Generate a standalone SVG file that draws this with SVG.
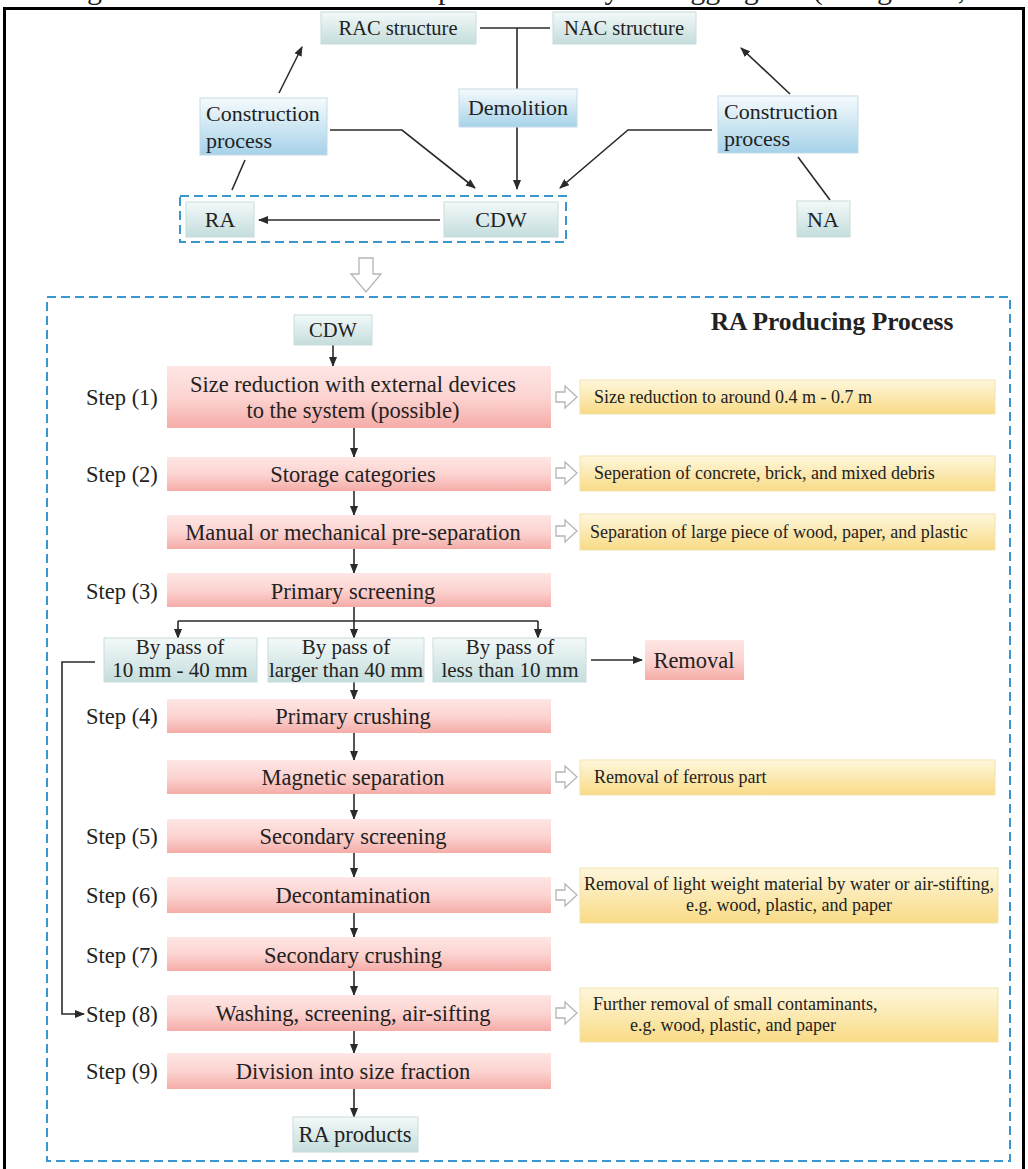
<svg xmlns="http://www.w3.org/2000/svg" width="1028" height="1169" viewBox="0 0 1028 1169">
<style>
  text { font-family: "Liberation Serif", "Times New Roman", serif; fill: #222; }
  .t20 { font-size: 20.5px; }
  .t22 { font-size: 22px; }
  .tbp { font-size: 21px; }
  .t21 { font-size: 22.5px; }
  .t17 { font-size: 18px; }
  .c { text-anchor: middle; }
  .teal { fill: url(#gTeal); stroke: #c9dcdc; stroke-width: 1; }
  .blue { fill: url(#gBlue); stroke: #c3dbe8; stroke-width: 1; }
  .pink { fill: url(#gPink); stroke: none; }
  .yel { fill: url(#gYel); stroke: #f3e3b0; stroke-width: 1; }
  .ln { stroke: #2a2a2a; stroke-width: 1.6; fill: none; }
  .arr { marker-end: url(#ah); }
  .dash { fill: none; stroke: #3a96cf; stroke-width: 2; stroke-dasharray: 9 5; }
  .hollow { fill: #fff; stroke: #b5b5b5; stroke-width: 1.3; }
</style>
<defs>
  <linearGradient id="gTeal" x1="0" y1="0" x2="0" y2="1">
    <stop offset="0" stop-color="#f3f9f9"/>
    <stop offset="1" stop-color="#c4dddc"/>
  </linearGradient>
  <linearGradient id="gBlue" x1="0" y1="0" x2="0" y2="1">
    <stop offset="0" stop-color="#f6fbfd"/>
    <stop offset="1" stop-color="#a6d2e9"/>
  </linearGradient>
  <linearGradient id="gPink" x1="0" y1="0" x2="0" y2="1">
    <stop offset="0" stop-color="#fde6e4"/>
    <stop offset="0.5" stop-color="#fcd4d1"/>
    <stop offset="1" stop-color="#f5aca8"/>
  </linearGradient>
  <linearGradient id="gYel" x1="0" y1="0" x2="0" y2="1">
    <stop offset="0" stop-color="#fef7dc"/>
    <stop offset="1" stop-color="#f9db86"/>
  </linearGradient>
  <marker id="ah" markerWidth="10" markerHeight="8" refX="9" refY="4" orient="auto" markerUnits="userSpaceOnUse">
    <path d="M0,0 L10,4 L0,8 z" fill="#2a2a2a"/>
  </marker>
</defs>

<rect x="0" y="0" width="1028" height="1169" fill="#fff"/>

<!-- clipped caption -->
<text x="62" y="-1" style="font-size:30px" fill="#000">Figure 3. The flow chart of the process of recycled aggregates (Wang et al., 2020)</text>

<!-- outer frame -->
<rect x="4.5" y="8.5" width="1019" height="1170" fill="none" stroke="#000" stroke-width="3"/>

<!-- dashed containers -->
<rect class="dash" x="180" y="196" width="386" height="46"/>
<rect class="dash" x="47" y="297" width="963" height="864"/>

<g id="connectors">
  <!-- top -->
  <line class="ln" x1="480" y1="28" x2="550" y2="28"/>
  <line class="ln" x1="517" y1="28" x2="517" y2="89"/>
  <line class="ln arr" x1="517" y1="127" x2="517" y2="189"/>
  <line class="ln arr" x1="279" y1="93" x2="302" y2="47"/>
  <line class="ln" x1="245" y1="160" x2="232" y2="190"/>
  <polyline class="ln arr" points="330,130 402,130 475,188"/>
  <polyline class="ln arr" points="712,130 628,130 560,188"/>
  <line class="ln arr" x1="790" y1="94" x2="741" y2="48"/>
  <line class="ln" x1="798" y1="157" x2="830" y2="200"/>
  <line class="ln arr" x1="440" y1="220" x2="259" y2="220"/>
  <!-- process -->
  <line class="ln arr" x1="333" y1="345" x2="333" y2="366"/>
  <line class="ln arr" x1="354" y1="428" x2="354" y2="457"/>
  <line class="ln arr" x1="354" y1="491" x2="354" y2="515"/>
  <line class="ln arr" x1="354" y1="549" x2="354" y2="573"/>
  <line class="ln" x1="354" y1="607" x2="354" y2="621"/>
  <line class="ln" x1="178" y1="621" x2="538" y2="621"/>
  <line class="ln arr" x1="178" y1="621" x2="178" y2="638"/>
  <line class="ln arr" x1="354" y1="621" x2="354" y2="638"/>
  <line class="ln arr" x1="538" y1="621" x2="538" y2="638"/>
  <line class="ln arr" x1="591" y1="660" x2="642" y2="660"/>
  <line class="ln arr" x1="354" y1="682" x2="354" y2="699"/>
  <line class="ln arr" x1="354" y1="733" x2="354" y2="760"/>
  <line class="ln arr" x1="354" y1="794" x2="354" y2="819"/>
  <line class="ln arr" x1="354" y1="853" x2="354" y2="877"/>
  <line class="ln arr" x1="354" y1="913" x2="354" y2="937"/>
  <line class="ln arr" x1="354" y1="971" x2="354" y2="995"/>
  <line class="ln arr" x1="354" y1="1031" x2="354" y2="1053"/>
  <line class="ln arr" x1="354" y1="1089" x2="354" y2="1117"/>
  <polyline class="ln arr" points="95,662 62,662 62,1014 84,1014"/>
  <!-- hollow arrows -->
  <path class="hollow" d="M359,258 h14 v16 h8 l-15,18 l-15,-18 h8 z"/>
  <path class="hollow" d="M556,392 h9 v-6 l12,11 l-12,11 v-6 h-9 z"/>
  <path class="hollow" d="M556,468 h9 v-6 l12,11 l-12,11 v-6 h-9 z"/>
  <path class="hollow" d="M556,526 h9 v-6 l12,11 l-12,11 v-6 h-9 z"/>
  <path class="hollow" d="M556,772 h9 v-6 l12,11 l-12,11 v-6 h-9 z"/>
  <path class="hollow" d="M556,890 h9 v-6 l12,11 l-12,11 v-6 h-9 z"/>
  <path class="hollow" d="M556,1008 h9 v-6 l12,11 l-12,11 v-6 h-9 z"/>
</g>

<!-- top section nodes -->
<g id="n-rac"><rect class="teal" x="321" y="12" width="155" height="32"/><text class="t20 c" x="398" y="35">RAC structure</text></g>
<g id="n-nac"><rect class="teal" x="553" y="12" width="143" height="32"/><text class="t20 c" x="624" y="35">NAC structure</text></g>
<g id="n-demolition"><rect class="blue" x="459" y="89" width="118" height="38"/><text class="t22 c" x="518" y="115">Demolition</text></g>
<g id="n-cp-left"><rect class="blue" x="200" y="98" width="127" height="57"/><text class="t22" x="206" y="121">Construction</text><text class="t22" x="206" y="148">process</text></g>
<g id="n-cp-right"><rect class="blue" x="718" y="96" width="140" height="57"/><text class="t22" x="724" y="119">Construction</text><text class="t22" x="724" y="146">process</text></g>
<g id="n-ra"><rect class="teal" x="186" y="202" width="68" height="35"/><text class="t22 c" x="220" y="227">RA</text></g>
<g id="n-cdw-top"><rect class="teal" x="444" y="202" width="114" height="35"/><text class="t22 c" x="501" y="227">CDW</text></g>
<g id="n-na"><rect class="teal" x="797" y="201" width="53" height="36"/><text class="t22 c" x="823" y="227">NA</text></g>

<!-- process title -->
<text x="832" y="330" style="font-size:25.5px;font-weight:bold" class="c">RA Producing Process</text>

<!-- process nodes -->
<g id="n-cdw"><rect class="teal" x="294" y="315" width="78" height="30"/><text class="t20 c" x="333" y="337">CDW</text></g>

<g id="n-step1"><text class="t21" x="86" y="405">Step (1)</text><rect class="pink" x="167" y="366" width="384" height="62"/><text class="t21 c" x="353" y="392">Size reduction with external devices</text><text class="t21 c" x="353" y="418">to the system (possible)</text></g>
<g id="n-note1"><rect class="yel" x="580" y="380" width="415" height="34"/><text class="t17" x="594" y="403">Size reduction to around 0.4 m - 0.7 m</text></g>

<g id="n-step2"><text class="t21" x="86" y="482">Step (2)</text><rect class="pink" x="167" y="457" width="384" height="34"/><text class="t21 c" x="353" y="482">Storage categories</text></g>
<g id="n-note2"><rect class="yel" x="580" y="456" width="415" height="35"/><text class="t17" x="594" y="479">Seperation of concrete, brick, and mixed debris</text></g>

<g id="n-presep"><rect class="pink" x="167" y="515" width="384" height="34"/><text class="t21 c" x="353" y="540">Manual or mechanical pre-separation</text></g>
<g id="n-note3"><rect class="yel" x="580" y="514" width="415" height="36"/><text class="t17" x="590" y="538">Separation of large piece of wood, paper, and plastic</text></g>

<g id="n-step3"><text class="t21" x="86" y="599">Step (3)</text><rect class="pink" x="167" y="573" width="384" height="34"/><text class="t21 c" x="353" y="599">Primary screening</text></g>

<g id="n-bp1"><rect class="teal" x="104" y="638" width="153" height="44"/><text class="tbp c" x="180" y="654">By pass of</text><text class="tbp c" x="180" y="677">10 mm - 40 mm</text></g>
<g id="n-bp2"><rect class="teal" x="268" y="638" width="156" height="44"/><text class="tbp c" x="346" y="654">By pass of</text><text class="tbp c" x="346" y="677">larger than 40 mm</text></g>
<g id="n-bp3"><rect class="teal" x="433" y="638" width="153" height="44"/><text class="tbp c" x="510" y="654">By pass of</text><text class="tbp c" x="510" y="677">less than 10 mm</text></g>
<g id="n-removal"><rect class="pink" x="645" y="640" width="99" height="40"/><text class="t21 c" x="694" y="668">Removal</text></g>

<g id="n-step4"><text class="t21" x="86" y="724">Step (4)</text><rect class="pink" x="167" y="699" width="384" height="34"/><text class="t21 c" x="353" y="724">Primary crushing</text></g>

<g id="n-magnetic"><rect class="pink" x="167" y="760" width="384" height="34"/><text class="t21 c" x="353" y="785">Magnetic separation</text></g>
<g id="n-note4"><rect class="yel" x="580" y="760" width="415" height="35"/><text class="t17" x="594" y="783">Removal of ferrous part</text></g>

<g id="n-step5"><text class="t21" x="86" y="844">Step (5)</text><rect class="pink" x="167" y="819" width="384" height="34"/><text class="t21 c" x="353" y="844">Secondary screening</text></g>

<g id="n-step6"><text class="t21" x="86" y="903">Step (6)</text><rect class="pink" x="167" y="877" width="384" height="36"/><text class="t21 c" x="353" y="903">Decontamination</text></g>
<g id="n-note5"><rect class="yel" x="580" y="868" width="418" height="55"/><text class="t17 c" x="789" y="890">Removal of light weight material by water or air-stifting,</text><text class="t17 c" x="789" y="911">e.g. wood, plastic, and paper</text></g>

<g id="n-step7"><text class="t21" x="86" y="963">Step (7)</text><rect class="pink" x="167" y="937" width="384" height="34"/><text class="t21 c" x="353" y="963">Secondary crushing</text></g>

<g id="n-step8"><text class="t21" x="86" y="1022">Step (8)</text><rect class="pink" x="167" y="995" width="384" height="36"/><text class="t21 c" x="353" y="1021">Washing, screening, air-sifting</text></g>
<g id="n-note6"><rect class="yel" x="580" y="988" width="418" height="54"/><text class="t17" x="593" y="1010">Further removal of small contaminants,</text><text class="t17" x="630" y="1031">e.g. wood, plastic, and paper</text></g>

<g id="n-step9"><text class="t21" x="86" y="1079">Step (9)</text><rect class="pink" x="167" y="1053" width="384" height="36"/><text class="t21 c" x="353" y="1079">Division into size fraction</text></g>

<g id="n-raproducts"><rect class="teal" x="293" y="1117" width="125" height="35"/><text class="t21 c" x="355" y="1142">RA products</text></g>
</svg>
